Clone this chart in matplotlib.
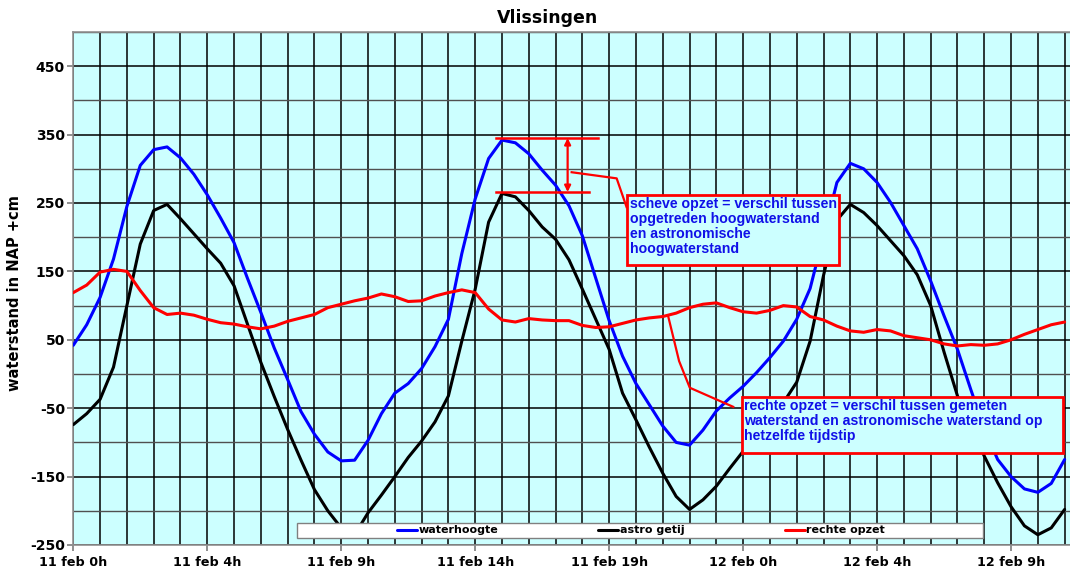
import numpy as np
import matplotlib.pyplot as plt
from matplotlib.patches import Rectangle

plt.rcParams["axes.unicode_minus"] = False

# tijd in uren vanaf 11 feb 0h, halfuurlijks
uren = np.arange(0, 37.5, 0.5)

waterhoogte = [
    42, 72, 112, 168, 245, 305, 328, 332, 316, 292,
    262, 228, 192, 140, 90, 38, -8, -55, -88, -114,
    -127, -126, -97, -58, -28, -14, 8, 40, 80, 176,
    256, 315, 342, 338, 322, 298, 276, 246, 202, 140,
    78, 26, -14, -45, -76, -100, -104, -82, -54, -35,
    -18, 2, 24, 48, 80, 125, 202, 280, 308, 300,
    280, 251, 217, 183, 136, 85, 36, -23, -80, -125,
    -150, -168, -173, -160, -125,
]

astro_getij = [
    -74, -58, -37, 10, 100, 190, 239, 248, 227, 205,
    183, 162, 129, 73, 17, -33, -81, -126, -169, -200,
    -225, -235, -203, -177, -150, -122, -98, -70, -32, 48,
    124, 222, 264, 259, 239, 215, 197, 167, 124, 80,
    36, -28, -67, -107, -145, -179, -198, -184, -164, -138,
    -113, -90, -66, -42, -12, 48, 144, 225, 248, 236,
    217, 195, 173, 145, 100, 32, -32, -78, -120, -159,
    -194, -222, -235, -225, -198,
]

rechte_opzet = [
    119, 130, 149, 153, 150, 122, 97, 87, 89, 86,
    80, 75, 73, 69, 66, 70, 77, 82, 87, 97,
    102, 107, 111, 117, 113, 106, 107, 114, 119, 123,
    119, 95, 79, 76, 81, 79, 78, 78, 71, 68,
    69, 74, 79, 82, 84, 89, 97, 102, 104, 97,
    91, 89, 93, 100, 98, 84, 79, 70, 63, 61,
    65, 63, 56, 53, 50, 44, 41, 43, 42, 44,
    50, 58, 65, 72, 76,
]

tick_pos = [0, 5, 10, 15, 20, 25, 30, 35]
tick_labels = ["11 feb 0h", "11 feb 4h", "11 feb 9h", "11 feb 14h",
               "11 feb 19h", "12 feb 0h", "12 feb 4h", "12 feb 9h"]

BG = "#CCFFFF"
TXT_BLUE = "#1010E8"
ann_font = "Liberation Sans"

fig = plt.figure(figsize=(10.7, 5.68), dpi=100)
ax = fig.add_axes([73.3 / 1070, 23 / 568, (1070 - 73.3) / 1070, 513 / 568])
ax.set_facecolor(BG)
ax.set_xlim(0, 37.2)
ax.set_ylim(-250, 500)

ax.set_xticks(tick_pos)
ax.set_xticklabels(tick_labels)
ax.set_xticks(range(0, 38), minor=True)
ax.set_yticks(range(-250, 451, 100))
ax.set_yticks(range(-200, 501, 100), minor=True)

ax.grid(True, axis="x", which="both", color="black", lw=1.1, zorder=1)
ax.grid(True, axis="y", which="major", color="black", lw=1.1, zorder=1)
ax.grid(True, axis="y", which="minor", color="#505050", lw=1.0, zorder=1)
ax.set_axisbelow(True)

for s in ["left", "bottom", "top"]:
    ax.spines[s].set_color("#909090")
    ax.spines[s].set_linewidth(1.2)
ax.spines["right"].set_visible(False)

ax.tick_params(axis="both", which="major", direction="out", color="#707070",
               length=4, width=1.1, pad=2)
ax.tick_params(axis="x", which="major", pad=4)
ax.tick_params(axis="both", which="minor", length=0)
for lbl in ax.get_xticklabels():
    lbl.set_fontweight("bold")
    lbl.set_fontsize(9.2)
for lbl in ax.get_yticklabels():
    lbl.set_fontweight("bold")
    lbl.set_fontsize(10)

stijl = dict(lw=2.2, zorder=3, solid_joinstyle="round", solid_capstyle="round")
l1, = ax.plot(uren, waterhoogte, color="#0000FF", **stijl)
l2, = ax.plot(uren, astro_getij, color="black", **stijl)
l3, = ax.plot(uren, rechte_opzet, color="#FF0000", **stijl)

# legenda in witte balk onderin
ax.add_patch(Rectangle((0.2244, 0.0136), 0.6883, 0.0293, transform=ax.transAxes,
                       facecolor="white", edgecolor="#808080", lw=1, zorder=4))
leg = ax.legend([l1, l2, l3], ["waterhoogte", "astro getij", "rechte opzet"],
                ncol=3, loc="center", bbox_to_anchor=(0.5696, 0.0283),
                frameon=False, handlelength=1.8, handletextpad=0.15,
                columnspacing=9.0, borderpad=0, prop={"weight": "bold", "size": 8})
leg.set_zorder(5)

# scheve opzet: hoogwater gemeten vs astronomisch (tweede tij)
sel = (uren > 14) & (uren < 19)
hw_gemeten = max(np.array(waterhoogte)[sel])
hw_astro = max(np.array(astro_getij)[sel])
ax.plot([15.77, 19.57], [hw_gemeten + 3, hw_gemeten + 3], color="red", lw=1.8, zorder=4)
ax.plot([15.77, 19.25], [hw_astro + 2, hw_astro + 2], color="red", lw=1.8, zorder=4)
ax.annotate("", xy=(18.45, hw_gemeten + 3), xytext=(18.45, hw_astro + 2),
            arrowprops=dict(arrowstyle="<|-|>", color="red", lw=1.6,
                            mutation_scale=9, shrinkA=0, shrinkB=0), zorder=4)
ax.plot([18.6, 20.28, 20.65], [295, 286, 244], color="red", lw=1.6, zorder=4)

ax.add_patch(Rectangle((20.67, 159.2), 28.58 - 20.67, 261.9 - 159.2,
                       facecolor=BG, edgecolor="red", lw=2, zorder=6))
ax.text(20.77, 259, "scheve opzet = verschil tussen\nopgetreden hoogwaterstand\n"
        "en astronomische\nhoogwaterstand", ha="left", va="top",
        color=TXT_BLUE, fontsize=10.2, fontweight="bold", family=ann_font,
        linespacing=1.1, zorder=7)

# rechte opzet
ax.plot([22.20, 22.61, 23.01, 24.63], [84.9, 18.9, -20.1, -48.0],
        color="red", lw=1.6, zorder=4)
ax.add_patch(Rectangle((24.94, -115.4), 36.94 - 24.94, -33.9 + 115.4,
                       facecolor=BG, edgecolor="red", lw=2, zorder=6))
ax.text(25.02, -36.5, "rechte opzet = verschil tussen gemeten\n"
        "waterstand en astronomische waterstand op\nhetzelfde tijdstip",
        ha="left", va="top", color=TXT_BLUE, fontsize=10.2, fontweight="bold",
        family=ann_font, linespacing=1.1, zorder=7)

fig.text(548 / 1070, 1 - 18 / 568, "Vlissingen", ha="center", va="center",
         fontsize=12.5, fontweight="bold")
fig.text(15 / 1070, 1 - 293 / 568, "waterstand in NAP +cm", ha="center",
         va="center", rotation=90, fontsize=10.5, fontweight="bold")

fig.savefig("out.png", dpi=100)
